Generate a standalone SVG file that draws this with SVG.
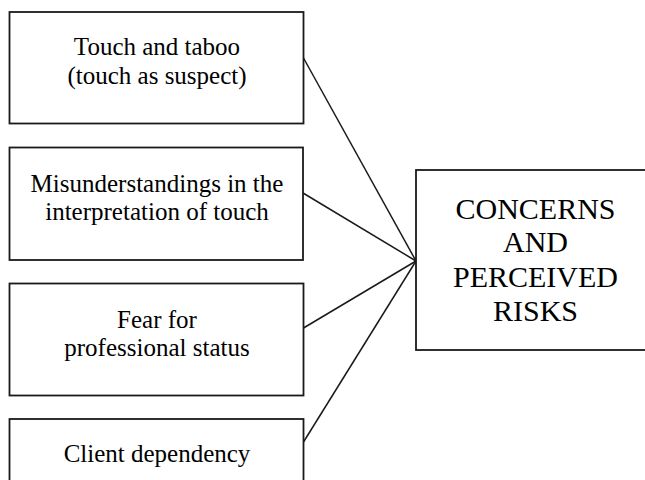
<svg xmlns="http://www.w3.org/2000/svg" width="645" height="480" viewBox="0 0 645 480">
  <style>
    .box { fill: #ffffff; stroke: #1a1a1a; stroke-width: 1.8; }
    .link { stroke: #1a1a1a; stroke-width: 1.5; fill: none; }
    .lbl { font-family: "Liberation Serif", "Times New Roman", serif; font-size: 25px; fill: #000; text-anchor: middle; }
    .main { font-family: "Liberation Serif", "Times New Roman", serif; font-size: 30px; fill: #000; text-anchor: middle; }
  </style>
  <rect width="645" height="480" fill="#ffffff"/>

  <!-- connectors: each factor joins the central box at one point -->
  <g id="connectors">
    <line class="link" x1="303.5" y1="58" x2="416" y2="261"/>
    <line class="link" x1="303" y1="193" x2="416" y2="261"/>
    <line class="link" x1="303.5" y1="328" x2="416" y2="261"/>
    <line class="link" x1="303.5" y1="442" x2="416" y2="261"/>
  </g>

  <g id="touch-taboo">
    <rect class="box" x="9.5" y="12" width="294" height="111.5"/>
    <text class="lbl" x="157" y="55">Touch and taboo</text>
    <text class="lbl" x="157" y="84">(touch as suspect)</text>
  </g>

  <g id="misunderstandings">
    <rect class="box" x="9.5" y="147.5" width="293.5" height="112.5"/>
    <text class="lbl" x="157" y="191.5">Misunderstandings in the</text>
    <text class="lbl" x="157" y="219.5">interpretation of touch</text>
  </g>

  <g id="professional-status">
    <rect class="box" x="9.5" y="283.5" width="294" height="112"/>
    <text class="lbl" x="157" y="327.5">Fear for</text>
    <text class="lbl" x="157" y="356">professional status</text>
  </g>

  <g id="client-dependency">
    <rect class="box" x="9.5" y="419" width="294" height="80"/>
    <text class="lbl" x="157" y="462">Client dependency</text>
  </g>

  <g id="concerns-risks">
    <rect class="box" x="416" y="170" width="250" height="180"/>
    <text class="main" x="535.5" y="218.5">CONCERNS</text>
    <text class="main" x="535.5" y="252">AND</text>
    <text class="main" x="535.5" y="286.5">PERCEIVED</text>
    <text class="main" x="535.5" y="321">RISKS</text>
  </g>
</svg>
